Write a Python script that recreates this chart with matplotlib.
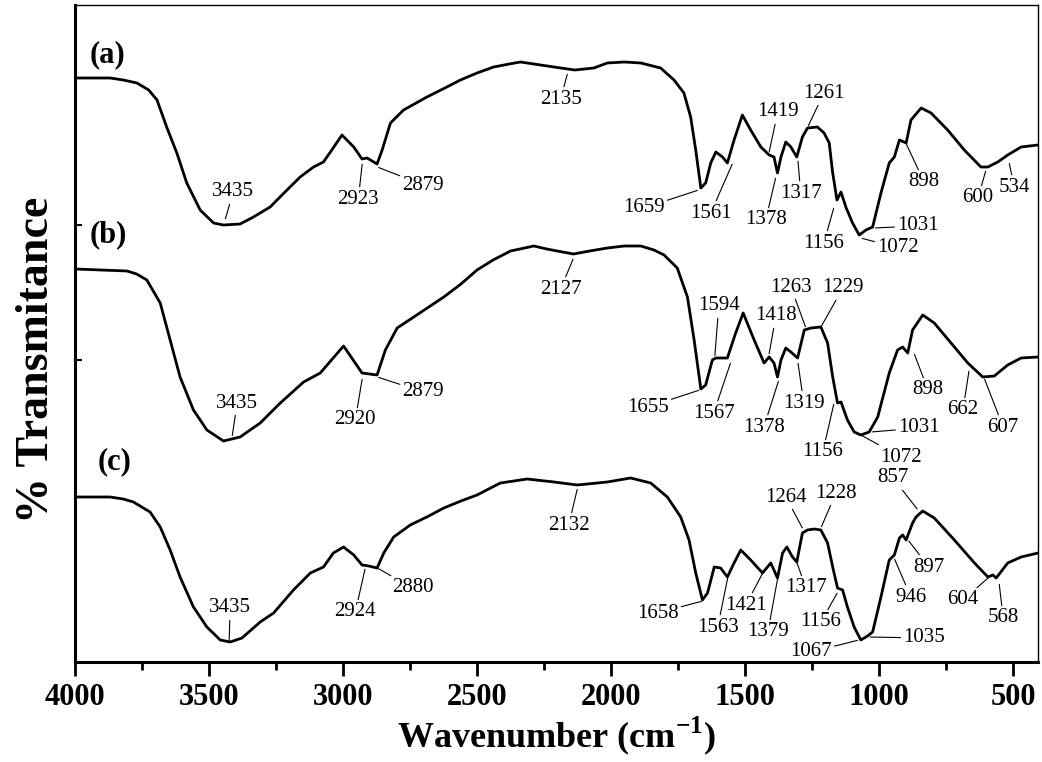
import matplotlib
matplotlib.use("Agg")
import matplotlib.pyplot as plt
from matplotlib.ticker import MultipleLocator, FixedLocator

plt.rcParams['font.family'] = ['Liberation Serif', 'DejaVu Serif']
plt.rcParams['mathtext.fontset'] = 'custom'
plt.rcParams['mathtext.rm'] = 'Liberation Serif:bold'
plt.rcParams['mathtext.bf'] = 'Liberation Serif:bold'

# ---------------- data (wavenumber cm^-1, relative transmittance) ----------------
wn_a = [4000, 3869, 3820, 3769, 3725, 3694, 3658, 3620, 3583, 3533, 3483, 3446, 3384, 3334,
        3272, 3209, 3160, 3110, 3073, 3047, 3004, 2960, 2929, 2910, 2873, 2854, 2823, 2774,
        2687, 2620, 2562, 2500, 2438, 2380, 2338, 2263, 2188, 2135, 2064, 2014, 1950, 1889,
        1815, 1765, 1728, 1703, 1684, 1665, 1647, 1628, 1609, 1584, 1566, 1541, 1510, 1479,
        1441, 1410, 1392, 1379, 1366, 1348, 1329, 1307, 1286, 1267, 1230, 1205, 1186, 1173,
        1157, 1142, 1124, 1099, 1074, 1049, 1024, 993, 962, 943, 924, 899, 881, 843, 806, 744,
        682, 620, 594, 557, 520, 470, 408]
t_a = [584, 584, 582, 579, 572, 562, 535, 509, 479, 452, 439, 437, 438, 445,
       455, 472, 485, 495, 500, 510, 527, 515, 503, 504, 498, 512, 539, 552,
       565, 574, 582, 589, 595, 598, 600, 597, 594, 592, 594, 599, 600, 599,
       594, 582, 569, 545, 512, 474, 479, 499, 510, 505, 499, 522, 547, 532,
       515, 507, 505, 489, 505, 520, 515, 505, 525, 534, 535, 529, 519, 489,
       462, 470, 455, 439, 427, 432, 435, 469, 499, 505, 522, 519, 542, 554, 549, 532,
       512, 495, 495, 500, 507, 515, 517]

wn_b = [4000, 3806, 3770, 3732, 3682, 3645, 3608, 3558, 3508, 3446, 3384, 3309, 3234, 3147,
        3085, 2998, 2929, 2873, 2842, 2798, 2736, 2624, 2560, 2500, 2440, 2375, 2288, 2240,
        2201, 2140, 2080, 2014, 1950, 1889, 1840, 1802, 1753, 1715, 1690, 1665, 1647, 1622,
        1609, 1566, 1535, 1507, 1466, 1429, 1410, 1392, 1379, 1366, 1348, 1329, 1304, 1279,
        1254, 1217, 1192, 1173, 1155, 1142, 1118, 1093, 1068, 1037, 1005, 962, 931, 912, 893,
        875, 837, 794, 719, 669, 613, 570, 520, 470, 407]
t_b = [393, 391, 388, 382, 359, 322, 285, 252, 232, 221, 225, 239, 259, 280,
       289, 316, 289, 287, 312, 334, 345, 365, 378, 392, 402, 411, 416, 413,
       411, 408, 411, 414, 416, 416, 412, 407, 394, 365, 322, 273, 277, 302,
       304, 304, 329, 349, 322, 299, 305, 299, 285, 302, 314, 310, 304, 332,
       334, 335, 319, 285, 259, 260, 242, 230, 227, 230, 245, 289, 312, 315, 309,
       332, 347, 339, 315, 299, 285, 286, 297, 304, 305]

wn_c = [4000, 3869, 3820, 3782, 3720, 3682, 3645, 3608, 3558, 3508, 3458, 3421, 3377, 3309,
        3259, 3185, 3122, 3073, 3036, 2998, 2960, 2929, 2904, 2873, 2848, 2811, 2749, 2680,
        2624, 2560, 2500, 2413, 2313, 2213, 2126, 2014, 1927, 1852, 1790, 1740, 1709, 1684,
        1659, 1640, 1615, 1591, 1566, 1541, 1516, 1479, 1435, 1404, 1379, 1360, 1344, 1323,
        1307, 1286, 1267, 1242, 1217, 1192, 1173, 1155, 1136, 1118, 1093, 1068, 1043, 1024,
        993, 962, 943, 924, 912, 899, 875, 862, 837, 794, 719, 644, 594, 575, 563, 520, 470, 407]
t_c = [165, 165, 163, 160, 150, 135, 112, 85, 55, 35, 22, 20, 24, 40,
       49, 72, 89, 95, 109, 115, 107, 97, 96, 94, 109, 125, 137, 146,
       154, 161, 167, 179, 183, 180, 177, 180, 184, 179, 165, 145, 122, 89,
       62, 69, 95, 94, 85, 99, 112, 102, 89, 99, 84, 109, 115, 105,
       100, 129, 132, 133, 132, 119, 95, 74, 72, 55, 35, 22, 26, 30,
       65, 102, 107, 124, 127, 122, 139, 145, 151, 144, 122, 99, 85, 87, 84, 99, 105, 109]

curve_names = ['(a)', '(b)', '(c)']

labels_a = ['3435', '2923', '2879', '2135', '1659', '1561', '1419', '1261', '1378', '1317',
            '1156', '1072', '1031', '898', '600', '534']
labels_b = ['3435', '2920', '2879', '2127', '1655', '1594', '1567', '1418', '1378', '1263',
            '1229', '1319', '1156', '1072', '1031', '898', '662', '607']
labels_c = ['3435', '2924', '2880', '2132', '1658', '1563', '1421', '1379', '1317', '1264',
            '1228', '1156', '1067', '1035', '946', '897', '857', '604', '568']

# ---------------- layout: leader-line anchor (x, y) and text position (x, y) ----------------
pos_a = [((3440, 442), (3410, 470)), ((2928, 499), (2943, 463)), ((2872, 495), (2700, 477)),
         ((2162, 589), (2188, 563)), ((1673, 472), (1878, 454)), ((1546, 499), (1628, 449)),
         ((1411, 509), (1378, 550)), ((1266, 535), (1206, 569)), ((1385, 485), (1423, 442)),
         ((1303, 502), (1292, 469)), ((1168, 455), (1206, 419)), ((1068, 424), (929, 414)),
         ((1019, 434), (855, 436)), ((900, 519), (832, 480)), ((601, 492), (631, 464)),
         ((515, 500), (496, 475))]
pos_b = [((3414, 225), (3395, 259)), ((2928, 284), (2954, 242)), ((2872, 285), (2700, 270)),
         ((2140, 404), (2188, 373)), ((1669, 272), (1863, 255)), ((1613, 305), (1598, 356)),
         ((1553, 300), (1617, 249)), ((1411, 307), (1385, 346)), ((1374, 282), (1430, 235)),
         ((1273, 334), (1329, 375)), ((1217, 335), (1135, 374)), ((1303, 300), (1281, 259)),
         ((1168, 259), (1210, 210)), ((1068, 227), (918, 205)), ((1030, 230), (851, 234)),
         ((870, 309), (817, 272)), ((664, 292), (687, 252)), ((608, 284), (537, 235))]
pos_c = [((3425, 20), (3421, 54)), ((2917, 94), (2954, 50)), ((2872, 94), (2741, 74)),
         ((2125, 174), (2158, 137)), ((1658, 61), (1826, 49)), ((1564, 85), (1602, 35)),
         ((1434, 89), (1497, 57)), ((1378, 84), (1415, 30)), ((1310, 102), (1273, 74)),
         ((1284, 133), (1348, 165)), ((1217, 134), (1161, 169)), ((1154, 70), (1217, 40)),
         ((1075, 22), (1254, 10)), ((1038, 25), (832, 24)), ((944, 104), (881, 65)),
         ((892, 122), (814, 95)), ((855, 152), (948, 184)), ((589, 85), (687, 62)),
         ((552, 79), (537, 44))]
name_pos = [(3880, 607), (3877, 427), (3854, 200)]

# ---------------- figure ----------------
fig = plt.figure(figsize=(10.42, 7.62), dpi=100)
ax = fig.add_axes([75 / 1042, 100 / 762, 963 / 1042, 657 / 762])

for wn, t in [(wn_a, t_a), (wn_b, t_b), (wn_c, t_c)]:
    ax.plot(wn, t, color='black', lw=2.0, solid_joinstyle='round')

for labels, pos in [(labels_a, pos_a), (labels_b, pos_b), (labels_c, pos_c)]:
    for lab, (xy, xyt) in zip(labels, pos):
        ax.annotate(lab, xy=xy, xytext=xyt, ha='center', va='center', fontsize=15,
                    arrowprops=dict(arrowstyle='-', lw=0.8, color='black',
                                    shrinkA=0, shrinkB=1))

for name, (x, y) in zip(curve_names, name_pos):
    ax.text(x, y, name, ha='center', va='center', fontsize=22, fontweight='bold')

ax.set_xlim(4000, 407)
ax.set_ylim(0, 657)
ax.xaxis.set_major_locator(MultipleLocator(500))
ax.xaxis.set_minor_locator(MultipleLocator(250))
ax.yaxis.set_major_locator(FixedLocator([302, 437]))
ax.tick_params(axis='x', which='major', direction='out', length=10, width=2,
               labelsize=22, pad=5)
ax.tick_params(axis='x', which='minor', direction='out', length=6, width=2)
ax.tick_params(axis='y', which='major', direction='in', length=5, width=1.5,
               labelleft=False)
for lab in ax.get_xticklabels():
    lab.set_fontweight('bold')

ax.spines['left'].set_linewidth(2.2)
ax.spines['bottom'].set_linewidth(2.2)
ax.spines['top'].set_linewidth(1.0)
ax.spines['right'].set_linewidth(1.0)

ax.set_xlabel('Wavenumber (cm$^{\\mathbf{-1}}$)', fontsize=26, fontweight='bold', labelpad=2)
ax.set_ylabel('% Transmitance', fontsize=33, fontweight='bold')
ax.yaxis.set_label_coords(-0.018, 0.46)

fig.savefig('out.png', dpi=100)
